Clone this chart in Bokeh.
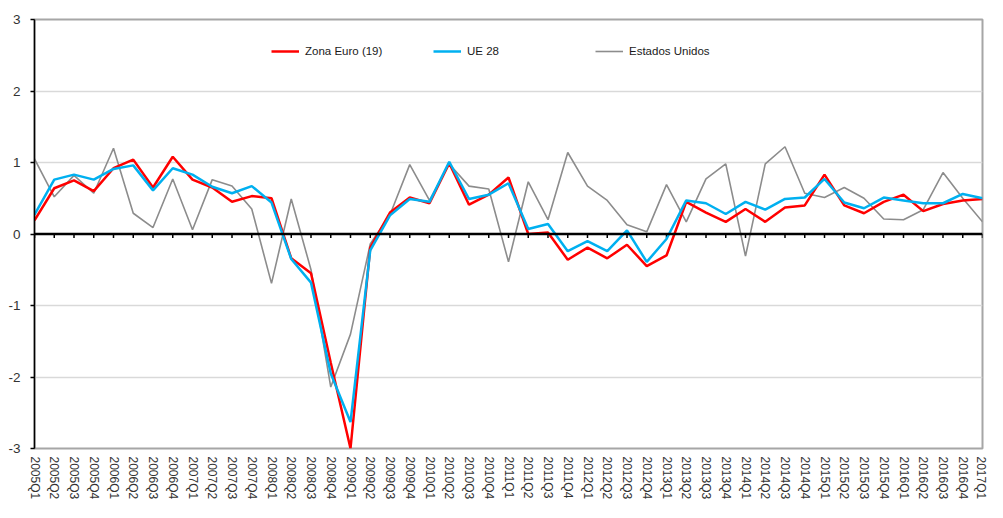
from bokeh.plotting import figure
from bokeh.models import Span, Legend, LegendItem, FixedTicker, ColumnDataSource
from bokeh.embed import file_html
from bokeh.resources import INLINE

quarters = [
    "2005Q1", "2005Q2", "2005Q3", "2005Q4",
    "2006Q1", "2006Q2", "2006Q3", "2006Q4",
    "2007Q1", "2007Q2", "2007Q3", "2007Q4",
    "2008Q1", "2008Q2", "2008Q3", "2008Q4",
    "2009Q1", "2009Q2", "2009Q3", "2009Q4",
    "2010Q1", "2010Q2", "2010Q3", "2010Q4",
    "2011Q1", "2011Q2", "2011Q3", "2011Q4",
    "2012Q1", "2012Q2", "2012Q3", "2012Q4",
    "2013Q1", "2013Q2", "2013Q3", "2013Q4",
    "2014Q1", "2014Q2", "2014Q3", "2014Q4",
    "2015Q1", "2015Q2", "2015Q3", "2015Q4",
    "2016Q1", "2016Q2", "2016Q3", "2016Q4",
    "2017Q1",
]

zona_euro = [0.19, 0.64, 0.75, 0.60, 0.92, 1.04, 0.65, 1.08, 0.76, 0.65, 0.45, 0.53, 0.50,
             -0.34, -0.55, -1.80, -3.00,
             -0.19, 0.30, 0.51, 0.43, 0.99, 0.41, 0.55, 0.79,
             0.00, 0.02, -0.36, -0.19, -0.34, -0.15, -0.45, -0.30,
             0.45, 0.30, 0.17, 0.35, 0.17, 0.37, 0.40, 0.83,
             0.40, 0.29, 0.45, 0.55, 0.32, 0.42, 0.47, 0.49]

ue_28 = [0.27, 0.76, 0.83, 0.76, 0.91, 0.96, 0.61, 0.92, 0.83, 0.66, 0.57, 0.67, 0.44,
         -0.35, -0.68, -1.95, -2.63,
         -0.23, 0.26, 0.49, 0.45, 1.01, 0.49, 0.55, 0.71,
         0.07, 0.14, -0.24, -0.10, -0.24, 0.05, -0.39, -0.07,
         0.47, 0.43, 0.28, 0.45, 0.34, 0.49, 0.51, 0.77,
         0.44, 0.36, 0.51, 0.47, 0.43, 0.43, 0.56, 0.50]

estados_unidos = [1.05, 0.52, 0.82, 0.57, 1.20, 0.29, 0.09, 0.77, 0.06, 0.76, 0.67, 0.35, -0.69,
                  0.49, -0.50, -2.14, -1.40,
                  -0.14, 0.27, 0.97, 0.47, 0.98, 0.67, 0.63, -0.39,
                  0.73, 0.20, 1.14, 0.67, 0.47, 0.13, 0.03, 0.69,
                  0.17, 0.77, 0.98, -0.31, 0.98, 1.22, 0.57, 0.51,
                  0.65, 0.50, 0.21, 0.20, 0.34, 0.86, 0.50, 0.17]

y_ticks = [-3, -2, -1, 0, 1, 2, 3]
y_tick_labels = ["-3", "-2", "-1", "0", "1", "2", "3"]

FONT = "Liberation Sans"

idx = list(range(len(quarters)))
src = ColumnDataSource(dict(x=idx, ze=zona_euro, ue=ue_28, us=estados_unidos,
                            zero=[0.0] * len(idx), tick=[-0.055] * len(idx)))

p = figure(width=987, height=502, x_range=(0, len(quarters) - 1), y_range=(-3, 3),
           output_backend="svg", toolbar_location=None,
           min_border_left=34, min_border_right=5, min_border_top=19, min_border_bottom=40)

p.background_fill_color = "white"
p.border_fill_color = "white"
p.outline_line_color = "#a6a6a6"
p.outline_line_width = 2

# grid
p.xgrid.visible = False
p.ygrid.ticker = FixedTicker(ticks=[-2, -1, 1, 2])
p.ygrid.grid_line_color = "#d9d9d9"
p.ygrid.grid_line_width = 1.5

# y axis
p.yaxis.ticker = FixedTicker(ticks=y_ticks)
p.yaxis.major_label_overrides = {t: s for t, s in zip(y_ticks, y_tick_labels)}
p.yaxis.axis_line_color = "black"
p.yaxis.axis_line_width = 1.5
p.yaxis.major_tick_out = 4
p.yaxis.major_tick_in = 0
p.yaxis.major_tick_line_color = "black"
p.yaxis.major_tick_line_width = 1.5
p.yaxis.minor_tick_line_color = None
p.yaxis.major_label_text_font = FONT
p.yaxis.major_label_text_font_size = "13.5px"
p.yaxis.major_label_text_color = "#333333"
p.yaxis.major_label_standoff = 10

# x axis: labels only, at the bottom
p.xaxis.ticker = FixedTicker(ticks=idx)
p.xaxis.major_label_overrides = {i: q for i, q in zip(idx, quarters)}
p.xaxis.major_label_orientation = "vertical"
p.xaxis.axis_line_color = None
p.xaxis.major_tick_line_color = None
p.xaxis.major_tick_out = 0
p.xaxis.major_tick_in = 0
p.xaxis.minor_tick_line_color = None
p.xaxis.minor_tick_out = 0
p.xaxis.minor_tick_in = 0
p.xaxis.major_label_text_font = FONT
p.xaxis.major_label_text_font_size = "12px"
p.xaxis.major_label_text_color = "#333333"
p.xaxis.major_label_standoff = 8

# zero line with category ticks
p.add_layout(Span(location=0, dimension="width", line_color="black", line_width=2.5))
p.segment(x0="x", y0="zero", x1="x", y1="tick", source=src, line_color="black", line_width=1.5)

r_us = p.line("x", "us", source=src, line_color="#8c8c8c", line_width=1.6)
r_ze = p.line("x", "ze", source=src, line_color="#ff0000", line_width=2.5)
r_ue = p.line("x", "ue", source=src, line_color="#00b0f0", line_width=2.5)

def add_legend(label, renderer, loc):
    leg = Legend(items=[LegendItem(label=label, renderers=[renderer])], location=loc,
                 orientation="horizontal", border_line_color=None, background_fill_alpha=0,
                 padding=0, margin=0, glyph_width=28, glyph_height=14, label_height=14,
                 label_standoff=6, label_text_font=FONT, label_text_font_size="11.5px",
                 label_text_color="#1a1a1a")
    p.add_layout(leg, "center")

add_legend("Zona Euro (19)", r_ze, (237, 390))
add_legend("UE 28", r_ue, (399, 390))
add_legend("Estados Unidos", r_us, (561, 390))

open("out.html", "w").write(file_html(p, INLINE))
